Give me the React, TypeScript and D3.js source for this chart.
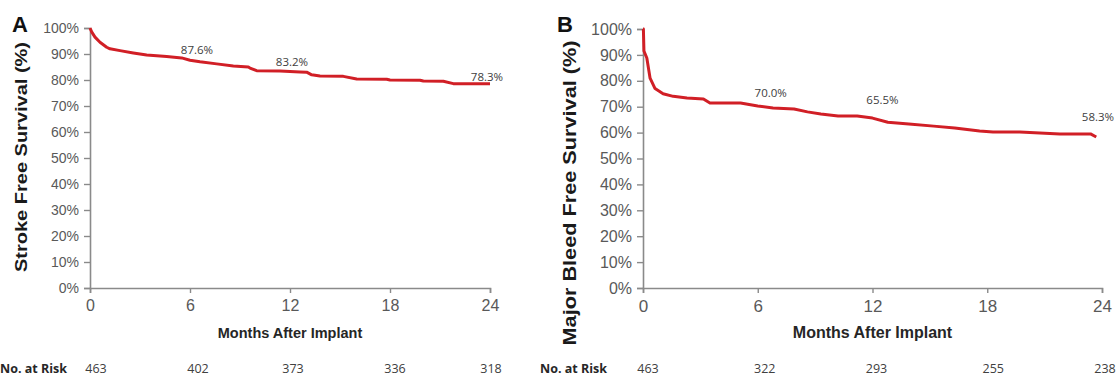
import * as d3 from 'd3'
import React, { useRef, useEffect } from 'react'

// axis ticks
const monthTicks = [0, 6, 12, 18, 24]
const pctTicks = [0, 10, 20, 30, 40, 50, 60, 70, 80, 90, 100]

// panel A - stroke free survival
const strokeMonths = [0, 0.1, 0.3, 0.6, 1.0, 1.2, 1.8, 2.6, 3.4, 4.6, 5.5, 6.0, 6.6, 7.6, 8.6, 9.5, 9.6, 10.0, 11.4, 12.0, 12.6, 13.0, 13.3, 13.8, 15.2, 16.0, 17.8, 18.0, 19.8, 20.0, 21.2, 21.8, 24.0]
const strokeSurvival = [100, 98.5, 96.5, 94.5, 92.6, 92.0, 91.3, 90.4, 89.6, 89.0, 88.5, 87.6, 87.0, 86.2, 85.4, 85.0, 84.6, 83.6, 83.5, 83.3, 83.1, 83.0, 82.0, 81.5, 81.4, 80.4, 80.3, 80.0, 79.9, 79.6, 79.5, 78.6, 78.6]
const strokeAtRisk = [463, 402, 373, 336, 318]
const strokeMarkMonths = [6, 12, 24]
const strokeMarkValues = [87.6, 83.2, 78.3]

// panel B - major bleed free survival
const bleedMonths = [0, 0.02, 0.05, 0.2, 0.37, 0.63, 1.05, 1.58, 2.3, 3.16, 3.5, 5.1, 6.0, 6.8, 7.9, 8.6, 9.3, 10.2, 11.2, 12.0, 12.8, 13.9, 15.2, 16.3, 17.6, 18.3, 19.7, 21.8, 23.4, 23.7]
const bleedSurvival = [100, 100, 91.5, 88.8, 81.0, 77.0, 75.0, 74.0, 73.4, 73.0, 71.4, 71.4, 70.3, 69.5, 69.1, 68.0, 67.2, 66.4, 66.4, 65.6, 64.0, 63.3, 62.5, 61.8, 60.6, 60.2, 60.2, 59.5, 59.5, 58.3]
const bleedAtRisk = [463, 322, 293, 255, 238]
const bleedMarkMonths = [6, 12, 24]
const bleedMarkValues = [70.0, 65.5, 58.3]

const panels = [
    {
        letter: 'A', yTitle: 'Stroke Free Survival (%)',
        months: strokeMonths, survival: strokeSurvival, atRisk: strokeAtRisk,
        markMonths: strokeMarkMonths, markValues: strokeMarkValues,
        x0: 90, x1: 490, y0: 288, y1: 28,
        yTickSize: 14, xTickSize: 16, monthSize: 14.5,
        titleSize: 17, titleX: 27, titleCy: 157, titleLen: 230,
        letterX: 20,
        markDx: [7, 2, -3], markDy: [-6, -6, -3],
        riskDx: [6, 8, 3, 5, 1],
        riskLabelX: 0,
    },
    {
        letter: 'B', yTitle: 'Major Bleed Free Survival (%)',
        months: bleedMonths, survival: bleedSurvival, atRisk: bleedAtRisk,
        markMonths: bleedMarkMonths, markValues: bleedMarkValues,
        x0: 643, x1: 1102, y0: 288, y1: 29,
        yTickSize: 16, xTickSize: 17, monthSize: 16,
        titleSize: 19, titleX: 576, titleCy: 193, titleLen: 305,
        letterX: 565,
        markDx: [13, 10, -4], markDy: [-10, -14, -16],
        riskDx: [5, 7, 4, 6, 3],
        riskLabelX: 540,
    },
]

export default function App() {
    const ref = useRef(null)

    useEffect(() => {
        const svg = d3.select(ref.current)
        svg.selectAll('*').remove()

        panels.forEach((p) => {
            const g = svg.append('g')

            const x = d3.scaleLinear().domain([0, 24]).range([p.x0, p.x1])
            const y = d3.scaleLinear().domain([0, 100]).range([p.y0, p.y1])

            // y axis
            const yAxis = g.append('g')
                .attr('transform', `translate(${p.x0},0)`)
                .call(d3.axisLeft(y).tickValues(pctTicks).tickSize(6).tickPadding(5).tickFormat(d => d + '%'))
            yAxis.select('.domain').attr('stroke', '#8a8a8a').attr('stroke-width', 1.6)
            yAxis.selectAll('.tick line').attr('stroke', '#8a8a8a').attr('stroke-width', 1.4)
            yAxis.selectAll('.tick text')
                .attr('fill', '#595959')
                .style('font-family', 'Liberation Sans, Arial, sans-serif')
                .style('font-size', p.yTickSize + 'px')

            // x axis
            const xAxis = g.append('g')
                .attr('transform', `translate(0,${p.y0})`)
                .call(d3.axisBottom(x).tickValues(monthTicks).tickSize(5).tickPadding(7))
            xAxis.select('.domain').attr('stroke', '#8a8a8a').attr('stroke-width', 1.6)
            xAxis.selectAll('.tick line').attr('stroke', '#8a8a8a').attr('stroke-width', 1.4)
            xAxis.selectAll('.tick text')
                .attr('fill', '#595959')
                .style('font-family', 'Liberation Sans, Arial, sans-serif')
                .style('font-size', p.xTickSize + 'px')

            g.append('text')
                .attr('x', (p.x0 + p.x1) / 2)
                .attr('y', 338)
                .attr('text-anchor', 'middle')
                .style('font-family', 'Liberation Sans, Arial, sans-serif')
                .style('font-weight', 'bold')
                .style('font-size', p.monthSize + 'px')
                .attr('fill', '#262626')
                .text('Months After Implant')

            // y title
            g.append('text')
                .attr('transform', `translate(${p.titleX},${p.titleCy}) rotate(-90)`)
                .attr('text-anchor', 'middle')
                .attr('textLength', p.titleLen)
                .attr('lengthAdjust', 'spacingAndGlyphs')
                .style('font-family', 'Liberation Sans, Arial, sans-serif')
                .style('font-weight', 'bold')
                .style('font-size', p.titleSize + 'px')
                .attr('fill', '#1a1a1a')
                .text(p.yTitle)

            g.append('text')
                .attr('x', p.letterX)
                .attr('y', 32)
                .attr('text-anchor', 'middle')
                .style('font-family', 'Liberation Sans, Arial, sans-serif')
                .style('font-weight', 'bold')
                .style('font-size', '22px')
                .attr('fill', '#111')
                .text(p.letter)

            // curve
            const pts = p.months.map((m, i) => [m, p.survival[i]])
            const line = d3.line().x(d => x(d[0])).y(d => y(d[1])).curve(d3.curveLinear)
            g.append('path')
                .attr('d', line(pts))
                .attr('fill', 'none')
                .attr('stroke', '#d11f26')
                .attr('stroke-width', 3)
                .attr('stroke-linejoin', 'round')

            // annotations
            p.markMonths.forEach((m, i) => {
                g.append('text')
                    .attr('x', x(m) + p.markDx[i])
                    .attr('y', y(p.markValues[i]) + p.markDy[i])
                    .attr('text-anchor', 'middle')
                    .style('font-family', 'Open Sans, sans-serif')
                    .style('font-size', '11.5px')
                    .attr('fill', '#404040')
                    .text(p.markValues[i].toFixed(1) + '%')
            })

            // number at risk
            g.append('text')
                .attr('x', p.riskLabelX)
                .attr('y', 373)
                .style('font-family', 'Open Sans, sans-serif')
                .style('font-weight', 'bold')
                .style('font-size', '12.5px')
                .attr('fill', '#262626')
                .text('No. at Risk')

            monthTicks.forEach((m, i) => {
                g.append('text')
                    .attr('x', x(m) + p.riskDx[i])
                    .attr('y', 373)
                    .attr('text-anchor', 'middle')
                    .style('font-family', 'Open Sans, sans-serif')
                    .style('font-size', '12.5px')
                    .attr('fill', '#404040')
                    .text(p.atRisk[i])
            })
        })
    }, [])

    return (
        <svg ref={ref} width={1118} height={378}
            style={{ position: 'absolute', left: 0, top: 0, background: '#fff' }} />
    )
}
